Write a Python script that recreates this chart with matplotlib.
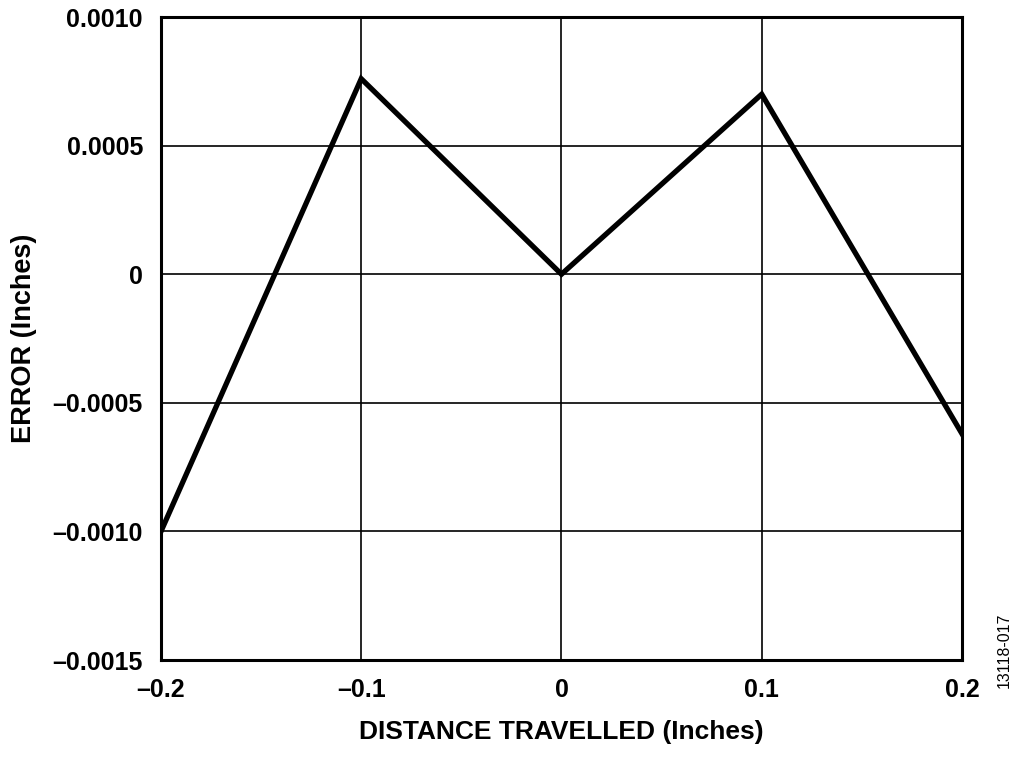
import matplotlib
matplotlib.use("Agg")
import matplotlib.pyplot as plt

distance = [-0.2, -0.1, 0.0, 0.1, 0.2]
error = [-0.00100, 0.00076, 0.0, 0.00070, -0.00062]

x_ticks = [-0.2, -0.1, 0.0, 0.1, 0.2]
x_tick_labels = ["\u20130.2", "\u20130.1", "0", "0.1", "0.2"]
y_ticks = [-0.0015, -0.0010, -0.0005, 0.0, 0.0005, 0.0010]
y_tick_labels = ["\u20130.0015", "\u20130.0010", "\u20130.0005", "0", "0.0005", "0.0010"]

plt.rcParams['font.family'] = ['Liberation Sans', 'DejaVu Sans']

fig = plt.figure(figsize=(10.24, 7.57), dpi=100)
ax = fig.add_axes([0.1572, 0.1281, 0.7822, 0.8494])

ax.plot(distance, error, color='black', linewidth=3.8, solid_joinstyle='miter', zorder=3)

ax.set_xlim(-0.2, 0.2)
ax.set_ylim(-0.0015, 0.0010)
ax.set_xticks(x_ticks)
ax.set_xticklabels(x_tick_labels, fontsize=18, fontweight='bold')
ax.set_yticks(y_ticks)
ax.set_yticklabels(y_tick_labels, fontsize=18, fontweight='bold')
ax.tick_params(axis='y', length=0, pad=13)
ax.tick_params(axis='x', length=0, pad=13)
ax.grid(True, color='black', linewidth=1.2)

for s in ax.spines.values():
    s.set_linewidth(2.2)
    s.set_zorder(4)

ax.set_xlabel("DISTANCE TRAVELLED (Inches)", fontsize=19, fontweight='bold', labelpad=13)
ax.set_ylabel("ERROR (Inches)", fontsize=19.5, fontweight='bold')
ax.yaxis.set_label_coords(-0.1545, 0.5)

fig.text(0.981, 0.141, "13118-017", rotation=90, fontsize=11.5, ha='center', va='center')

fig.savefig("out.png", dpi=100)
